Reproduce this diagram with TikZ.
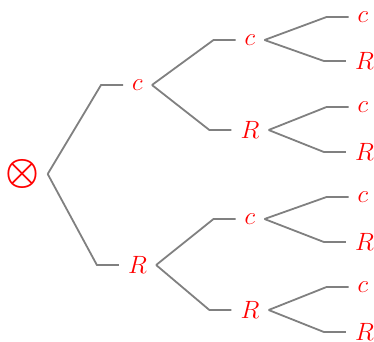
\documentclass[tikz,border=0pt]{standalone}
\usepackage{fix-cm}
\begin{document}
\begin{tikzpicture}[x=1pt,y=-1pt,
  lbl/.style={text=red,inner sep=9pt,font=\fontsize{25}{30}\selectfont},
  rootlbl/.style={text=red,inner sep=8.5pt,font=\fontsize{38}{44}\selectfont\boldmath},
  edge/.style={draw=gray,line width=1.8pt,line join=miter}]
\useasboundingbox (0,0) rectangle (374,341);
\node[rootlbl] (r) at (22,174) {$\otimes$};
% level 1
\node[lbl] (a) at (137.5,85) {$c$};
\node[lbl] (b) at (137.5,265) {$R$};
% level 2
\node[lbl] (aa) at (250,40) {$c$};
\node[lbl] (ab) at (250,130) {$R$};
\node[lbl] (ba) at (250,219) {$c$};
\node[lbl] (bb) at (250,310) {$R$};
% level 3
\node[lbl] (aaa) at (363,17) {$c$};
\node[lbl] (aab) at (364.5,61) {$R$};
\node[lbl] (aba) at (363,107) {$c$};
\node[lbl] (abb) at (364.5,152) {$R$};
\node[lbl] (baa) at (363,197) {$c$};
\node[lbl] (bab) at (364.5,242) {$R$};
\node[lbl] (bba) at (363,287) {$c$};
\node[lbl] (bbb) at (364.5,332) {$R$};
% edges
\foreach \p/\c in {r/a,r/b,a/aa,a/ab,b/ba,b/bb,aa/aaa,aa/aab,ab/aba,ab/abb,ba/baa,ba/bab,bb/bba,bb/bbb}{
  \draw[edge] (\p.east) -- ([xshift=-22pt]\c.west) -- (\c.west);
}
\end{tikzpicture}
\end{document}
